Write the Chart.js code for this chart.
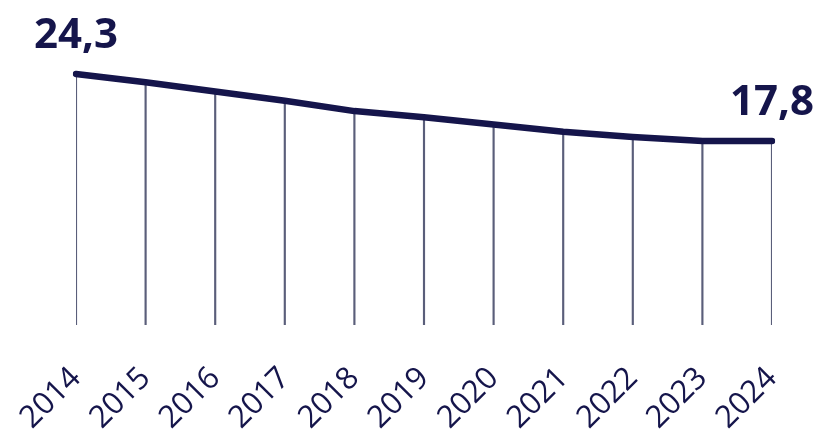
<!DOCTYPE html>
<html>
<head>
<meta charset="utf-8">
<script src="https://cdn.jsdelivr.net/npm/chart.js@4"></script>
<style>
  html,body{margin:0;padding:0;background:#fff;}
  #wrap{width:823px;height:430px;}
</style>
</head>
<body>
<div id="wrap"><canvas id="myChart"></canvas></div>
<script>
// datos
const years  = ['2014','2015','2016','2017','2018','2019','2020','2021','2022','2023','2024']
const values = [24.3, 23.5, 22.6, 21.7, 20.7, 20.1, 19.4, 18.7, 18.2, 17.8, 17.8]
const labelIdx = [0, values.length-1] // solo primero y ultimo llevan etiqueta

const colorLinea = '#15154b'
const colorGuia  = '#5a5e7a'

// etiquetas de valor sobre el primer y ultimo punto
const valueLabels = {
  id:'valueLabels',
  afterDatasetsDraw(chart){
    const c = chart.ctx
    const meta = chart.getDatasetMeta(1)
    c.save()
    c.fillStyle = colorLinea
    c.font = 'bold 42px "Noto Sans"'
    c.textAlign = 'center'
    c.textBaseline = 'alphabetic'
    for (const i of labelIdx) {
      const p = meta.data[i]
      c.fillText(values[i].toFixed(1).replace('.',','), p.x, p.y-26)
    }
    c.restore()
  }
}

const ctx = document.getElementById('myChart')
const myChart = new Chart(ctx,{
  data:{
    labels:years,
    datasets:[
      {type:'bar',data:values,backgroundColor:colorGuia,barThickness:1.5,order:2},
      {type:'line',data:values,borderColor:colorLinea,borderWidth:6.5,borderCapStyle:'round',borderJoinStyle:'round',
       pointRadius:0,tension:0,fill:false,order:1}
    ]
  },
  options:{
    responsive:true,
    maintainAspectRatio:false,
    animation:false,
    events:[],
    layout:{padding:{left:76,right:51,top:15,bottom:0}},
    plugins:{legend:{display:false},tooltip:{enabled:false}},
    scales:{
      x:{
        offset:false,
        grid:{display:false,drawTicks:false},
        border:{display:false},
        ticks:{color:colorLinea,font:{family:'"Open Sans"',size:31},minRotation:45,maxRotation:45,padding:35,autoSkip:false},
        afterFit(scale){ scale.height = 105; scale.paddingLeft = 0; scale.paddingRight = 0 }
      },
      y:{display:false,min:0,max:30}
    }
  },
  plugins:[valueLabels]
})
</script>
</body>
</html>
